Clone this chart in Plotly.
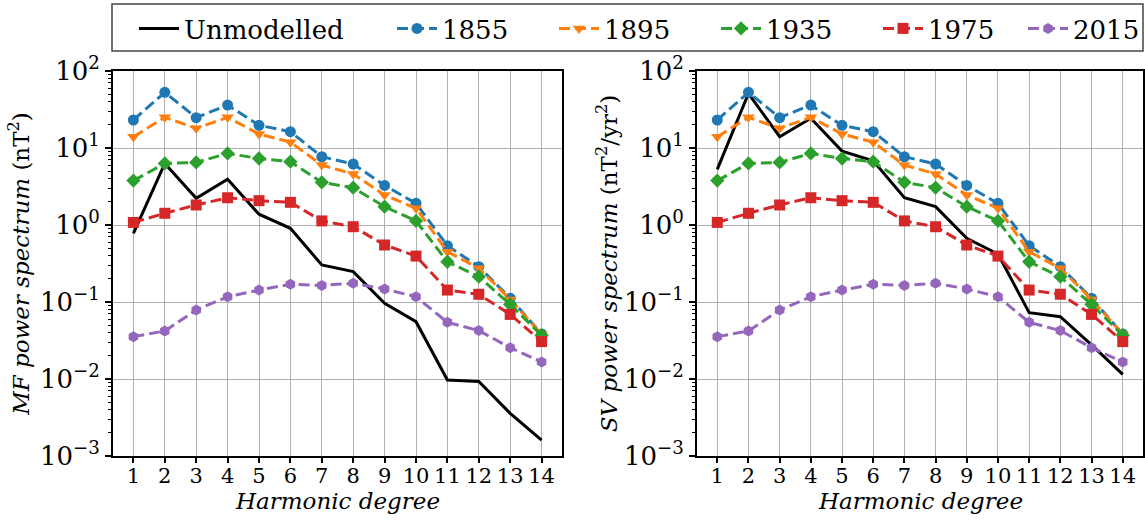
import plotly.graph_objects as go

# harmonic degrees
degree = list(range(1, 15))

# period spectra (same for MF and SV panels)
p1855 = [23.1, 52.8, 24.8, 36.1, 19.7, 16.3, 7.7, 6.2, 3.27, 1.91, 0.538, 0.288, 0.112, 0.0384]
p1895 = [14.0, 25.0, 18.0, 25.0, 15.2, 11.9, 6.0, 4.6, 2.45, 1.65, 0.45, 0.274, 0.108, 0.038]
p1935 = [3.77, 6.3, 6.5, 8.5, 7.3, 6.65, 3.58, 3.05, 1.73, 1.13, 0.333, 0.213, 0.093, 0.037]
p1975 = [1.08, 1.42, 1.82, 2.26, 2.07, 1.97, 1.13, 0.95, 0.55, 0.395, 0.143, 0.126, 0.069, 0.0306]
p2015 = [0.0355, 0.042, 0.0787, 0.117, 0.143, 0.17, 0.164, 0.175, 0.148, 0.117, 0.0545, 0.0425, 0.0255, 0.0166]

# unmodelled spectra
unmod_mf = [0.78, 6.3, 2.22, 3.93, 1.38, 0.905, 0.303, 0.248, 0.096, 0.0555, 0.0097, 0.0093, 0.00358, 0.00161]
unmod_sv = [5.28, 51.0, 14.0, 24.3, 9.1, 6.8, 2.26, 1.73, 0.67, 0.42, 0.0727, 0.0644, 0.0277, 0.0115]

series = [
    ("1855", p1855, "#1f77b4", "circle", "legend2"),
    ("1895", p1895, "#ff7f0e", "triangle-down", "legend2"),
    ("1935", p1935, "#2ca02c", "diamond", "legend2"),
    ("1975", p1975, "#d62728", "square", "legend2"),
    ("2015", p2015, "#9467bd", "hexagon", "legend3"),
]

W, H = 1145, 520
FONT = "DejaVu Serif"

fig = go.Figure()

for col, unmod in ((1, unmod_mf), (2, unmod_sv)):
    xa = "x" if col == 1 else "x2"
    ya = "y" if col == 1 else "y2"
    fig.add_trace(go.Scatter(x=degree, y=unmod, mode="lines", name="Unmodelled",
                             line=dict(color="black", width=3),
                             xaxis=xa, yaxis=ya, showlegend=(col == 1),
                             legend="legend"))
    for name, vals, color, sym, leg in series:
        fig.add_trace(go.Scatter(x=degree, y=vals, mode="lines+markers", name=name,
                                 line=dict(color=color, width=3, dash="11px,5px"),
                                 marker=dict(color=color, symbol=sym, size=11),
                                 xaxis=xa, yaxis=ya, showlegend=(col == 1),
                                 legend=leg))

decades = [-3, -2, -1, 0, 1, 2]
ytext = ["10<sup>−3</sup>", "10<sup>−2</sup>", "10<sup>−1</sup>",
         "10<sup>0</sup>", "10<sup>1</sup>", "10<sup>2</sup>"]
minor_vals = [k * 10.0 ** e for e in range(-3, 2) for k in range(2, 10)]

yaxis_common = dict(
    type="log", range=[-3, 2], automargin=False,
    tickvals=[10.0 ** e for e in decades], ticktext=ytext,
    ticks="outside", ticklen=6, tickwidth=1.5, tickcolor="black",
    showline=True, linewidth=2, linecolor="black", mirror=True,
    showgrid=True, gridcolor="#b0b0b0", gridwidth=1,
    tickfont=dict(family=FONT, size=26, color="black"),
    minor=dict(tickvals=minor_vals, ticks="outside", ticklen=3,
               tickwidth=1, tickcolor="black", showgrid=False),
    zeroline=False,
)
xaxis_common = dict(
    range=[0.35, 14.65], tickmode="array", tickvals=degree,
    ticktext=[str(d) for d in degree], tickangle=0, automargin=False,
    ticks="outside", ticklen=5, tickwidth=1.5, tickcolor="black",
    ticklabelstandoff=-5,
    showline=True, linewidth=2, linecolor="black", mirror=True,
    showgrid=True, gridcolor="#b0b0b0", gridwidth=1,
    tickfont=dict(family=FONT, size=21, color="black"),
    zeroline=False,
)

legend_common = dict(orientation="h", y=1 - 5 / H, yanchor="top",
                     bgcolor="rgba(0,0,0,0)", borderwidth=0, itemwidth=40,
                     font=dict(family=FONT, size=26, color="black"))

left_dom = [113 / W, 562 / W]
right_dom = [697 / W, 1143 / W]
ydom = [1 - 456 / H, 1 - 71 / H]
fig.update_layout(
    width=W, height=H,
    margin=dict(l=0, r=0, t=0, b=0),
    paper_bgcolor="white", plot_bgcolor="white",
    font=dict(family=FONT, color="black"),
    xaxis=dict(domain=left_dom, anchor="y", **xaxis_common),
    xaxis2=dict(domain=right_dom, anchor="y2", **xaxis_common),
    yaxis=dict(domain=ydom, anchor="x",
               title=dict(text="<i>MF power spectrum</i> (nT<sup>2</sup>)", standoff=4,
                          font=dict(family=FONT, size=23, color="black")),
               **yaxis_common),
    yaxis2=dict(domain=ydom, anchor="x2",
                title=dict(text="<i>SV power spectrum</i> (nT<sup>2</sup>/yr<sup>2</sup>)", standoff=0,
                           font=dict(family=FONT, size=23, color="black")),
                **yaxis_common),
    legend=dict(x=134 / W, xanchor="left", **legend_common),
    legend2=dict(x=392 / W, xanchor="left", entrywidth=107, entrywidthmode="pixels",
                 **legend_common),
    legend3=dict(x=1.0, xanchor="right", **legend_common),
    shapes=[dict(type="rect", xref="paper", yref="paper",
                 x0=112 / W, x1=1143 / W, y0=1 - 51 / H, y1=1 - 4 / H,
                 line=dict(color="#444444", width=1.5), fillcolor="rgba(0,0,0,0)")],
    annotations=[
        dict(text="<i>Harmonic degree</i>", xref="paper", yref="paper",
             x=sum(dom) / 2, y=1 - 501 / H, xanchor="center", yanchor="middle",
             showarrow=False, font=dict(family=FONT, size=23, color="black"))
        for dom in (left_dom, right_dom)
    ],
)

fig.write_html("out.html", config={"displayModeBar": False},
               post_script="document.body.style.margin='0';")
